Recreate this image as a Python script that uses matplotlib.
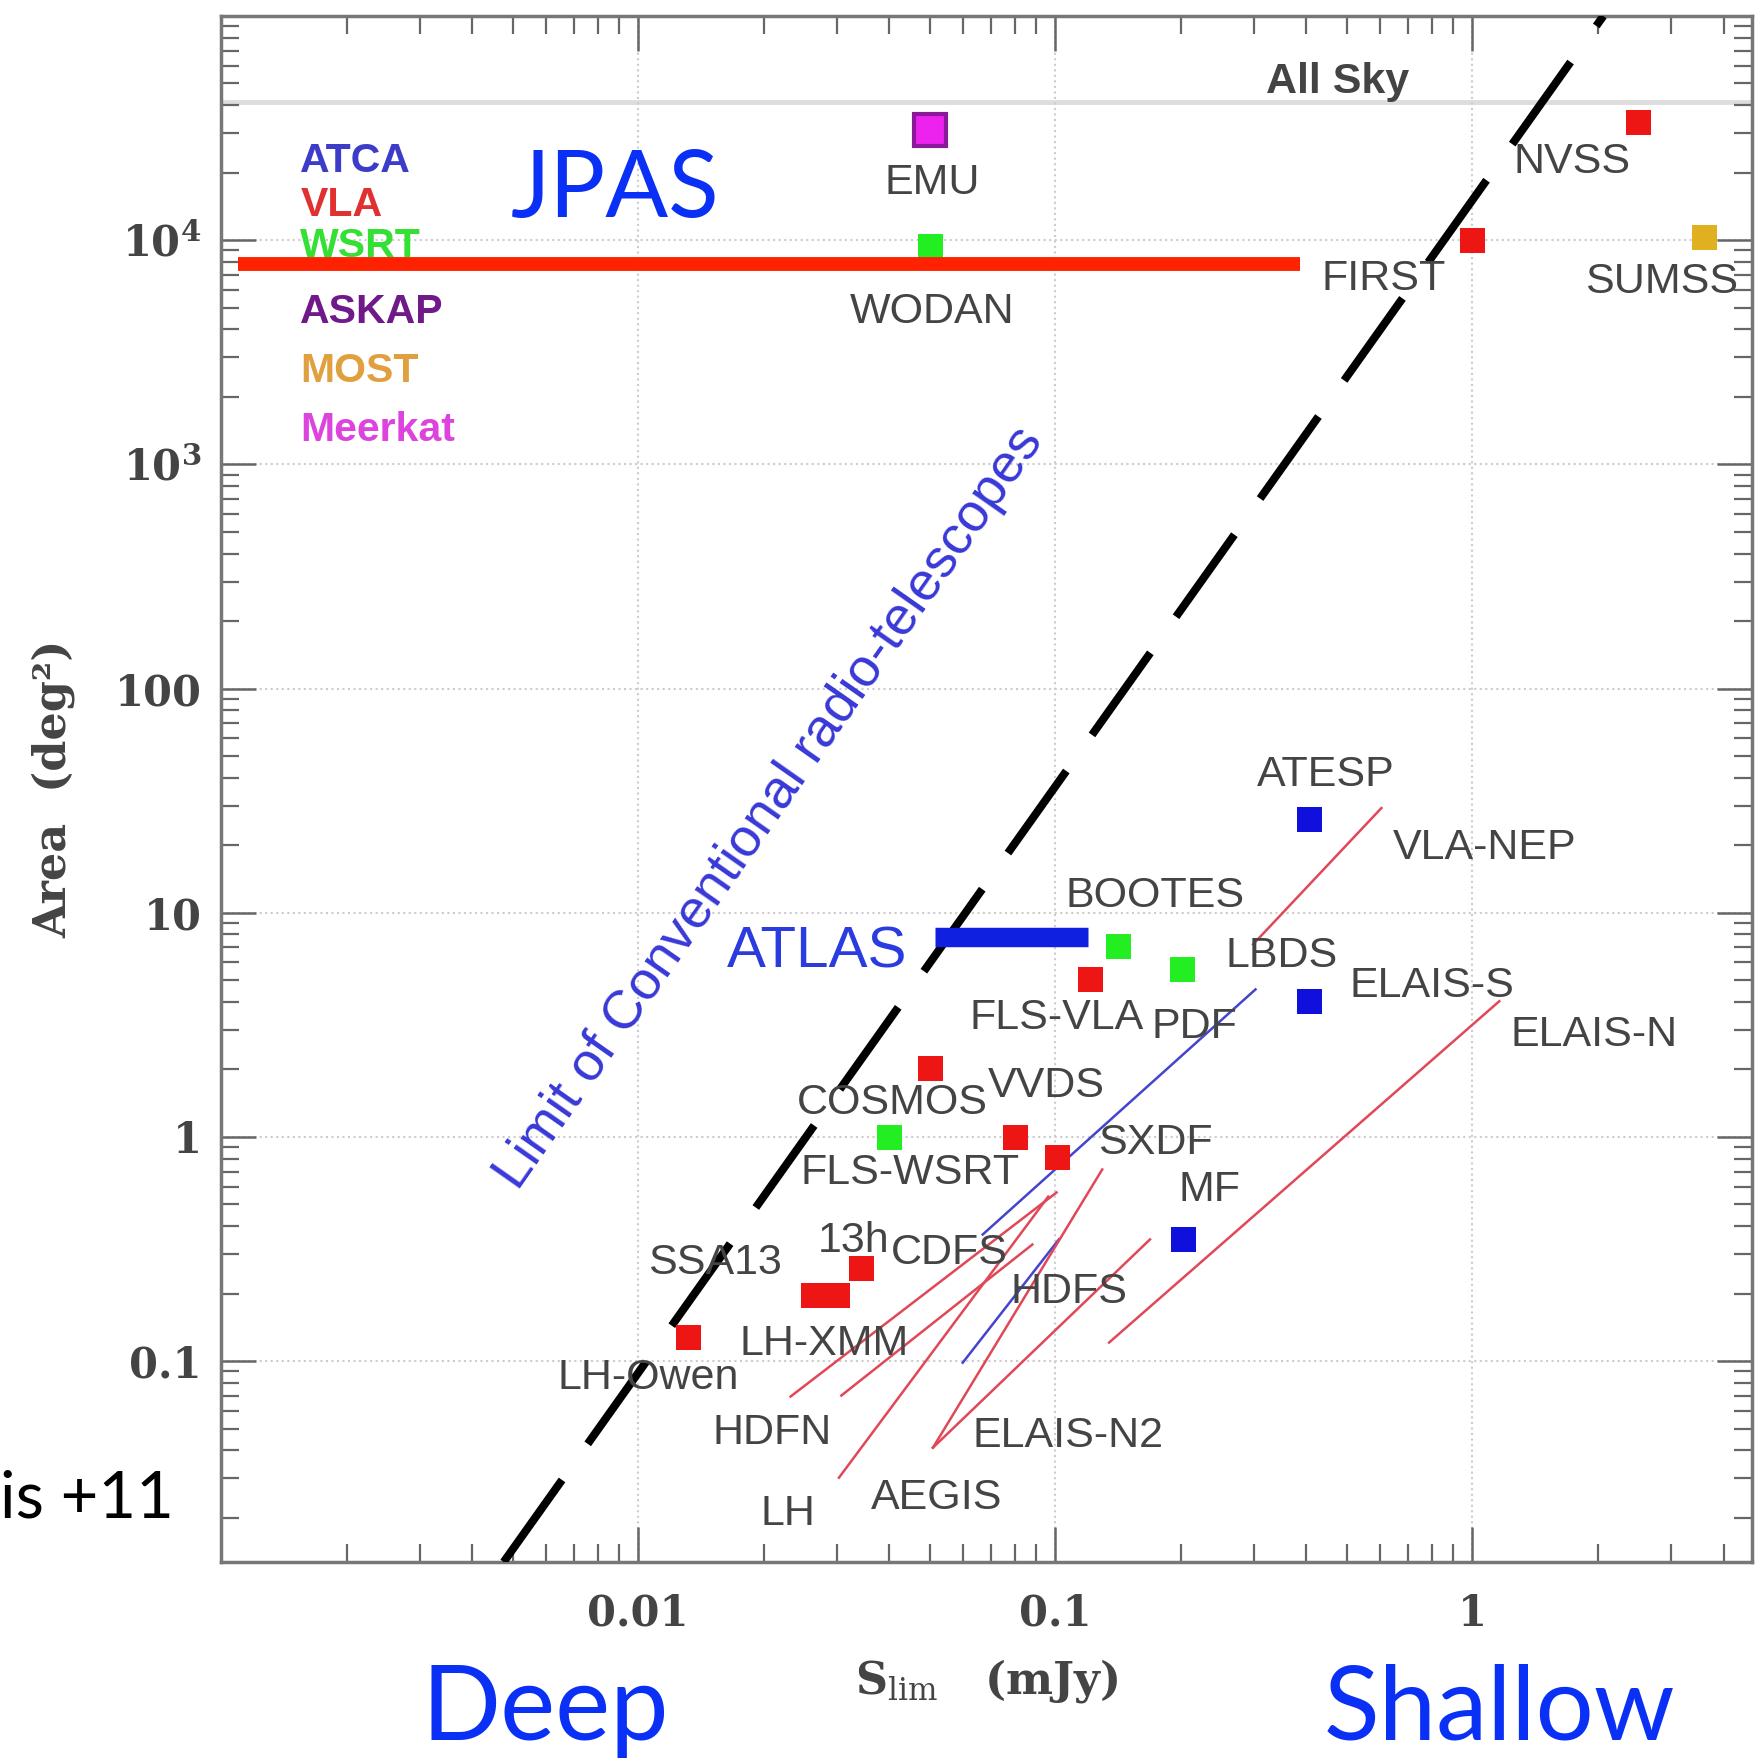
import matplotlib
matplotlib.use('Agg')
import matplotlib.pyplot as plt

# survey points: flux limit (mJy), area (deg^2), telescope
pt_name = ['EMU', 'WODAN', 'NVSS', 'FIRST', 'SUMSS', 'ATESP', 'BOOTES', 'FLS-VLA', 'PDF',
           'ELAIS-S', 'COSMOS', 'FLS-WSRT', 'VVDS', 'SXDF', 'MF', 'SSA13', 'LH-XMM', '13h', 'LH-Owen']
pt_flux = [0.050, 0.050, 2.5, 1.0, 3.6, 0.405, 0.141, 0.121, 0.201,
           0.405, 0.050, 0.040, 0.080, 0.101, 0.202, 0.0263, 0.030, 0.0342, 0.01315]
pt_area = [30900, 9440, 33700, 10000, 10300, 26.1, 7.08, 5.05, 5.59,
           4.03, 2.03, 1.0, 1.0, 0.81, 0.352, 0.198, 0.198, 0.259, 0.128]
pt_tel = ['Meerkat', 'WSRT', 'VLA', 'VLA', 'MOST', 'ATCA', 'WSRT', 'VLA', 'WSRT',
          'ATCA', 'VLA', 'WSRT', 'VLA', 'VLA', 'ATCA', 'VLA', 'VLA', 'VLA', 'VLA']

# surveys drawn as ranges (start -> end)
seg_flux0 = [0.605, 1.16, 0.302, 0.102, 0.1007, 0.0881, 0.0962, 0.1296, 0.1687]
seg_area0 = [29.3, 4.03, 4.55, 0.349, 0.565, 0.331, 0.542, 0.716, 0.349]
seg_flux1 = [0.298, 0.1346, 0.067, 0.060, 0.0232, 0.0307, 0.0303, 0.0509, 0.0509]
seg_area1 = [7.23, 0.121, 0.367, 0.0984, 0.0695, 0.0702, 0.0302, 0.0411, 0.0411]
seg_tel = ['VLA', 'VLA', 'ATCA', 'ATCA', 'VLA', 'VLA', 'VLA', 'VLA', 'VLA']

# ATLAS range
atlas_flux = [0.0514, 0.120]
atlas_area = [7.77, 7.77]

# limit of conventional radio telescopes
limit_flux = [0.00476, 2.06]
limit_area = [0.0127, 1.0e5]

all_sky = 41253
jpas_flux = [0.0011, 0.386]
jpas_area = [7850, 7850]

# survey labels
labels = [
    ('NVSS', 1.73, 22400), ('EMU', 0.0507, 18000), ('FIRST', 0.614, 6680),
    ('SUMSS', 2.84, 6530), ('WODAN', 0.0507, 4790), ('ATESP', 0.446, 41.2),
    ('VLA-NEP', 1.07, 19.5), ('BOOTES', 0.173, 11.9), ('LBDS', 0.348, 6.38),
    ('ELAIS-S', 0.80, 4.73), ('ELAIS-N', 1.96, 2.85), ('FLS-VLA', 0.101, 3.39),
    ('PDF', 0.216, 3.09), ('VVDS', 0.0953, 1.68), ('COSMOS', 0.0406, 1.41),
    ('SXDF', 0.174, 0.944), ('FLS-WSRT', 0.0448, 0.692), ('MF', 0.234, 0.582),
    ('SSA13', 0.0153, 0.275), ('13h', 0.0328, 0.345), ('CDFS', 0.0558, 0.302),
    ('HDFS', 0.1076, 0.204), ('LH-XMM', 0.0279, 0.119), ('LH-Owen', 0.01057, 0.0841),
    ('HDFN', 0.0210, 0.0479), ('ELAIS-N2', 0.107, 0.0462), ('AEGIS', 0.052, 0.0245),
    ('LH', 0.0228, 0.0207),
]

tel_names = ['ATCA', 'VLA', 'WSRT', 'ASKAP', 'MOST', 'Meerkat']
tel_key_y = [22650, 14300, 9440, 4790, 2600, 1430]

tel_color = {'ATCA': '#1010dd', 'VLA': '#ee1515', 'WSRT': '#22ee22',
             'ASKAP': '#7a1890', 'MOST': '#e0b020', 'Meerkat': '#ee22ee'}
key_color = {'ATCA': '#3c3cc8', 'VLA': '#e03030', 'WSRT': '#33e033',
             'ASKAP': '#701a8a', 'MOST': '#e0a040', 'Meerkat': '#dd44dd'}
seg_color = {'VLA': '#e04858', 'ATCA': '#4444cc'}

plt.rcParams['mathtext.fontset'] = 'dejavuserif'

fig = plt.figure(figsize=(17.6, 17.59), dpi=100)
ax = fig.add_axes([221 / 1760, 1 - 1562 / 1759, (1752 - 221) / 1760, (1562 - 16) / 1759])
ax.set_xscale('log')
ax.set_yscale('log')
ax.set_xlim(0.00103, 4.68)
ax.set_ylim(0.0127, 1.0e5)

ax.grid(True, which='major', linestyle=':', color='#cccccc', linewidth=1.5)
ax.axhline(all_sky, color='#dddddd', linewidth=3.5, zorder=1)

# limit line
ax.plot(limit_flux, limit_area, color='black', linewidth=5.8, dashes=(12.5, 5.5),
        solid_capstyle='butt', zorder=3)

# range segments
for i in range(len(seg_flux0)):
    ax.plot([seg_flux0[i], seg_flux1[i]], [seg_area0[i], seg_area1[i]],
            color=seg_color[seg_tel[i]], linewidth=1.8, zorder=2)

ax.plot(atlas_flux, atlas_area, color='#1020e0', linewidth=14, solid_capstyle='butt', zorder=4)

for i in range(len(pt_flux)):
    if pt_name[i] == 'EMU':
        ax.plot(pt_flux[i], pt_area[i], 's', markersize=23, color=tel_color['Meerkat'],
                markeredgecolor='#8a1a9a', markeredgewidth=3, zorder=5)
    else:
        ax.plot(pt_flux[i], pt_area[i], 's', markersize=18, color=tel_color[pt_tel[i]],
                markeredgewidth=0, zorder=5)

for name, x, y in labels:
    ax.text(x, y, name, ha='center', va='center', fontsize=31, family='Liberation Sans',
            color='#444444', zorder=6)

ax.text(0.474, 50700, 'All Sky', ha='center', va='center', fontsize=31,
        family='Liberation Sans', fontweight='bold', color='#444444')

for name, y in zip(tel_names, tel_key_y):
    ax.text(0.00155, y, name, ha='left', va='center', fontsize=29.5, family='Liberation Sans',
            fontweight='bold', color=key_color[name], zorder=6)

ax.text(0.0268, 6.68, 'ATLAS', ha='center', va='center', fontsize=42,
        family='Liberation Sans', color='#2a3be0', zorder=6)
ax.text(0.0206, 29.2, 'Limit of Conventional radio-telescopes', ha='center', va='center',
        fontsize=39, family='Liberation Sans', color='#3838d8', rotation=55,
        rotation_mode='anchor', zorder=6)

# JPAS overlay
ax.plot(jpas_flux, jpas_area, color='#ff2200', linewidth=10, solid_capstyle='butt', zorder=7)

# axes styling
for s in ax.spines.values():
    s.set_color('#777777')
    s.set_linewidth(2.5)
ax.tick_params(which='major', direction='in', length=25, width=1.8, color='#666666',
               top=True, right=True)
ax.tick_params(which='minor', direction='in', length=13, width=1.6, color='#666666',
               top=True, right=True)
ax.set_xticks([0.001, 0.01, 0.1, 1])
ax.set_xticklabels(['', '0.01', '0.1', '1'])
ax.set_yticks([0.1, 1, 10, 100, 1e3, 1e4, 1e5])
ax.set_yticklabels(['0.1', '1', '10', '100', r'$\mathbf{10^{3}}$', r'$\mathbf{10^{4}}$', ''])
ax.tick_params(axis='x', pad=22)
ax.tick_params(axis='y', pad=14)
for t in ax.get_xticklabels() + ax.get_yticklabels():
    t.set_family('DejaVu Serif')
    t.set_fontweight('bold')
    t.set_fontsize(30)
    t.set_color('#444444')

ax.set_xlabel(r'S$_{\rm lim}$   (mJy)', family='DejaVu Serif', fontweight='bold',
              fontsize=32, color='#444444', labelpad=16)
ax.set_ylabel('Area  (deg²)', family='DejaVu Serif', fontweight='bold',
              fontsize=32, color='#444444', labelpad=28)

# slide overlays
fig.text(511 / 1760, 1 - 217 / 1759, 'JPAS', family='Lato', fontsize=67, color='#0a30f5',
         va='baseline', ha='left')
fig.text(421 / 1760, 1 - 1740 / 1759, 'Deep', family='Lato', fontsize=75, color='#0a30f5',
         va='baseline', ha='left')
fig.text(1324 / 1760, 1 - 1740 / 1759, 'Shallow', family='Lato', fontsize=74, color='#0a30f5',
         va='baseline', ha='left')
fig.text(0, 1 - 1517 / 1759, 'is +11', family='Lato', fontsize=47, color='black',
         va='baseline', ha='left')

fig.savefig('out.png', dpi=100)
